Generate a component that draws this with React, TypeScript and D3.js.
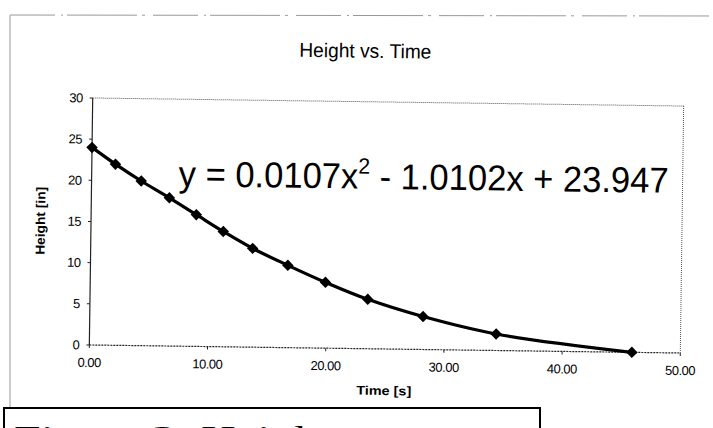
import React from 'react';
import * as d3 from 'd3';

// values
const timeValues = [0, 2.0, 4.2, 6.6, 8.9, 11.2, 13.7, 16.7, 19.9, 23.5, 28.2, 34.4, 45.9];
const heightValues = [24, 22, 20, 18, 16, 14, 12, 10, 8, 6, 4, 2, 0];
const yTicks = [0, 5, 10, 15, 20, 25, 30];
const xTicks = [0, 10, 20, 30, 40, 50];

const W = 713;
const H = 428;
const plot = { left: 91, right: 682, top: 102, bottom: 349 };
const tilt = 0.78; // scan is slightly rotated

const App = () => {
  const x = d3.scaleLinear().domain([0, 50]).range([plot.left, plot.right]);
  const y = d3.scaleLinear().domain([0, 30]).range([plot.bottom, plot.top]);

  const points = timeValues.map((t, i) => ({ t, h: heightValues[i] }));
  const line = d3.line<{ t: number; h: number }>()
    .x(d => x(d.t))
    .y(d => y(d.h))
    .curve(d3.curveCatmullRom.alpha(0.5));
  const diamond = d3.symbol().type(d3.symbolSquare).size(66)();

  const cx = (plot.left + plot.right) / 2;
  const cy = (plot.top + plot.bottom) / 2;
  const sans = '"Liberation Sans", Arial, sans-serif';

  return (
    <svg width={W} height={H} style={{ position: 'absolute', left: 0, top: 0, background: '#fff' }}>
      {/* chart area frame */}
      <line x1={10} y1={15} x2={713} y2={16} stroke="#999" strokeWidth={1} strokeDasharray="45,6,2,4,70,5,3,8" />
      <line x1={10} y1={15} x2={10} y2={410} stroke="#999" strokeWidth={1} />

      <g transform={`rotate(${tilt}, ${cx}, ${cy})`}>
        <text x={363} y={58} textAnchor="middle" fontFamily={sans} fontSize={20}
          textLength={132} lengthAdjust="spacingAndGlyphs">Height vs. Time</text>

        {/* plot border */}
        <line x1={plot.left} y1={plot.top} x2={plot.right} y2={plot.top} stroke="#555" strokeDasharray="1,1" />
        <line x1={plot.right} y1={plot.top} x2={plot.right} y2={plot.bottom} stroke="#555" strokeDasharray="1,1" />
        <line x1={plot.left} y1={plot.top} x2={plot.left} y2={plot.bottom} stroke="#222" strokeWidth={1.2} />
        <line x1={plot.left} y1={plot.bottom} x2={plot.right} y2={plot.bottom} stroke="#222" strokeWidth={1.2} strokeDasharray="2,1" />

        {yTicks.map(v => (
          <g key={'y' + v}>
            <line x1={plot.left - 3} x2={plot.left} y1={y(v)} y2={y(v)} stroke="#222" />
            <text x={plot.left - 10} y={y(v)} dy="0.35em" textAnchor="end" fontFamily={sans} fontSize={13}
              letterSpacing={-0.5}>{v}</text>
          </g>
        ))}
        {xTicks.map(v => (
          <g key={'x' + v}>
            <line x1={x(v)} x2={x(v)} y1={plot.bottom} y2={plot.bottom + 3} stroke="#222" />
            <text x={x(v)} y={plot.bottom + 22} textAnchor="middle" fontFamily={sans} fontSize={13}
              letterSpacing={-0.5}>{v.toFixed(2)}</text>
          </g>
        ))}

        <text x={386} y={plot.bottom + 46} textAnchor="middle" fontFamily={sans} fontSize={12.5} fontWeight="bold"
          textLength={55} lengthAdjust="spacingAndGlyphs">Time [s]</text>
        <text transform={`translate(45, ${cy}) rotate(-90)`} textAnchor="middle" fontFamily={sans} fontSize={13}
          fontWeight="bold" textLength={68} lengthAdjust="spacingAndGlyphs">Height [in]</text>

        <path d={line(points) ?? ''} fill="none" stroke="#000" strokeWidth={3.2} strokeLinejoin="round" />
        {points.map((d, i) => (
          <path key={i} d={diamond ?? ''} transform={`translate(${x(d.t)}, ${y(d.h)}) rotate(45)`} fill="#000" />
        ))}

        <text x={178} y={189} fontFamily={sans} fontSize={36} textLength={490} lengthAdjust="spacingAndGlyphs">
          y = 0.0107x<tspan dy={-15} fontSize={22}>2</tspan><tspan dy={15}> - 1.0102x + 23.947</tspan>
        </text>
      </g>

      {/* caption box from the page below the chart */}
      <rect x={4} y={408} width={536} height={40} fill="#fff" stroke="#000" strokeWidth={2} />
      <text x={14} y={446} fontFamily='"Liberation Serif", "Times New Roman", serif' fontSize={30}
        textLength={318} lengthAdjust="spacingAndGlyphs">Figure 3: Height</text>
    </svg>
  );
};

export default App;
